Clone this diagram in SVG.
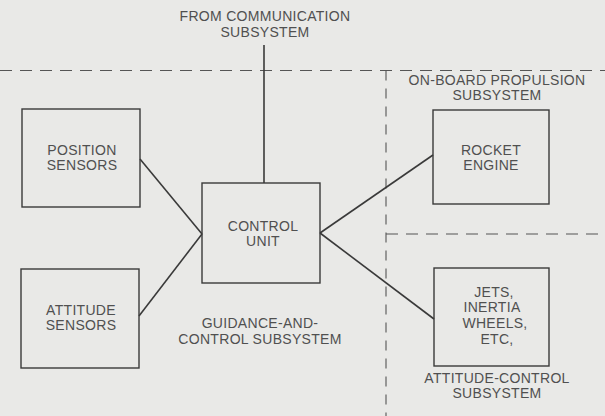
<svg xmlns="http://www.w3.org/2000/svg" width="605" height="416" viewBox="0 0 605 416">
<style>
.bg{fill:#e9e9e7}
.box{fill:none;stroke:#3a3a3a;stroke-width:1.4}
.ln{fill:none;stroke:#3a3a3a;stroke-width:1.6}
.dash{fill:none;stroke:#555;stroke-width:1.1;stroke-dasharray:12 8}
.vdash{fill:none;stroke:#555;stroke-width:1.1;stroke-dasharray:10 8}
text{font-family:"Liberation Sans",Arial,sans-serif;font-size:14px;fill:#505050;text-anchor:middle;letter-spacing:0.3px}
</style>
<rect class="bg" x="0" y="0" width="605" height="416"/>
<g id="boundaries">
<line class="dash" x1="0" y1="70.5" x2="605" y2="70.5"/>
<line class="vdash" x1="386" y1="70.5" x2="386" y2="416"/>
<line class="dash" x1="386" y1="234" x2="605" y2="234"/>
</g>
<g id="connectors">
<line class="ln" x1="264" y1="45" x2="264" y2="183"/>
<line class="ln" x1="140" y1="159" x2="202" y2="234"/>
<line class="ln" x1="139" y1="316" x2="202" y2="234"/>
<line class="ln" x1="320" y1="233" x2="433" y2="155"/>
<line class="ln" x1="320" y1="233" x2="434" y2="319"/>
</g>
<g id="from-comm">
<text x="265" y="21">FROM COMMUNICATION</text>
<text x="265" y="37">SUBSYSTEM</text>
</g>
<g id="position-sensors">
<rect class="box" x="22" y="109" width="118" height="98"/>
<text x="82" y="155">POSITION</text>
<text x="82" y="170">SENSORS</text>
</g>
<g id="attitude-sensors">
<rect class="box" x="21" y="269" width="118" height="99"/>
<text x="81" y="315">ATTITUDE</text>
<text x="81" y="330">SENSORS</text>
</g>
<g id="control-unit">
<rect class="box" x="202" y="183" width="118" height="100"/>
<text x="263" y="231">CONTROL</text>
<text x="263" y="246">UNIT</text>
</g>
<g id="guidance-label">
<text x="260" y="328">GUIDANCE-AND-</text>
<text x="260" y="344">CONTROL SUBSYSTEM</text>
</g>
<g id="propulsion-label">
<text x="497" y="85">ON-BOARD PROPULSION</text>
<text x="497" y="100">SUBSYSTEM</text>
</g>
<g id="rocket-engine">
<rect class="box" x="433" y="110" width="116" height="94"/>
<text x="491" y="155">ROCKET</text>
<text x="491" y="170">ENGINE</text>
</g>
<g id="jets">
<rect class="box" x="434" y="268" width="115" height="98"/>
<text x="494" y="297">JETS,</text>
<text x="492" y="312">INERTIA</text>
<text x="495" y="328">WHEELS,</text>
<text x="497" y="344">ETC,</text>
</g>
<g id="attitude-control-label">
<text x="497" y="383">ATTITUDE-CONTROL</text>
<text x="497" y="398">SUBSYSTEM</text>
</g>
</svg>
